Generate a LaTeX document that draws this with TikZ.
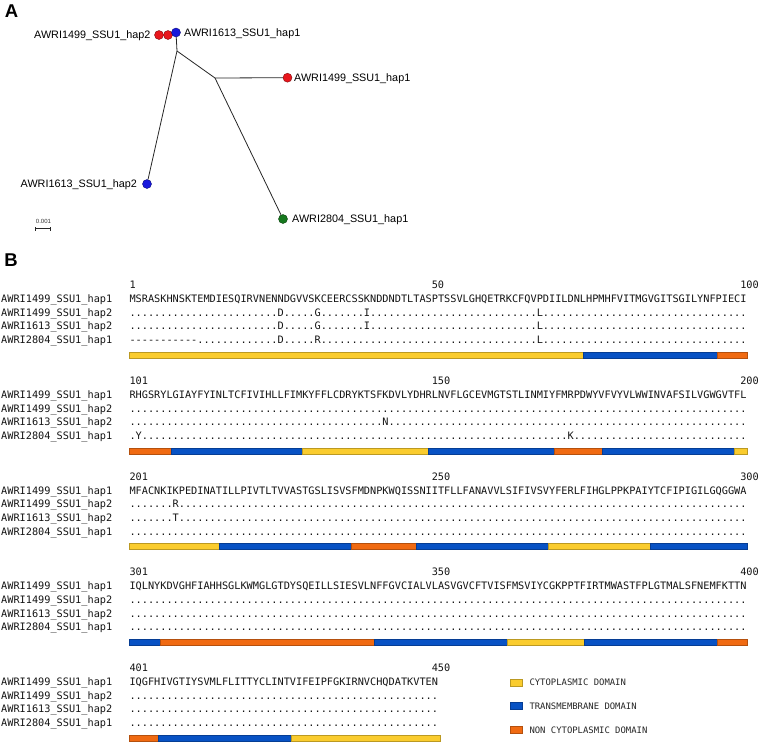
\documentclass[tikz,border=0pt]{standalone}
\usepackage{fontspec}
\setmainfont{Liberation Sans}
\setmonofont{DejaVu Sans Mono}
\ExplSyntaxOn
\cs_new:Npn \myrep #1#2 { \prg_replicate:nn {#1} {#2} }
\ExplSyntaxOff
\definecolor{cyto}{RGB}{250,204,46}
\definecolor{tm}{RGB}{8,82,196}
\definecolor{ncyto}{RGB}{240,106,18}
\definecolor{tred}{RGB}{232,22,28}
\definecolor{tblue}{RGB}{24,24,220}
\definecolor{tgreen}{RGB}{22,120,30}
\tikzset{
  seq/.style={font=\ttfamily\fontsize{10.25}{12}\selectfont, anchor=base west, inner sep=0pt, text=black!92},
  legtxt/.style={font=\ttfamily\fontsize{8.9}{10}\selectfont, anchor=base west, inner sep=0pt, text=black!85},
  leaf/.style={circle, inner sep=0pt, minimum size=9pt, draw=#1!55!black, fill=#1, line width=0.4pt},
  tlab/.style={font=\fontsize{10.8}{12}\selectfont, anchor=base west, inner sep=0pt, text=black},
  tlabr/.style={tlab, anchor=base east},
  panel/.style={font=\bfseries\fontsize{18.5}{20}\selectfont, inner sep=0pt},
  branch/.style={draw=black!85, line width=0.8pt},
  seg/.style={fill=#1, draw=#1!75!black, line width=0.3pt}
}
% #1 block index, #2 #3 #4 numbers, #5-#8 rows
\newcommand\seqblock[8]{%
  \pgfmathsetmacro\yb{299+95.75*#1}%
  \node[seq] (num#1a) at (129.3,\yb-14+3.7) {#2};
  \node[seq] (num#1b) at (431.6,\yb-14+3.7) {#3};
  \node[seq] (num#1c) at (740.1,\yb-14+3.7) {#4};
  \node[seq] (lab#1a) at (1,\yb+3.7) {AWRI1499\_SSU1\_hap1};
  \node[seq] (lab#1b) at (1,\yb+13.6+3.7) {AWRI1499\_SSU1\_hap2};
  \node[seq] (lab#1c) at (1,\yb+27.2+3.7) {AWRI1613\_SSU1\_hap2};
  \node[seq] (lab#1d) at (1,\yb+40.8+3.7) {AWRI2804\_SSU1\_hap1};
  \node[seq] (row#1a) at (129.3,\yb+3.7) {#5};
  \node[seq] (row#1b) at (129.3,\yb+13.6+3.7) {#6};
  \node[seq] (row#1c) at (129.3,\yb+27.2+3.7) {#7};
  \node[seq] (row#1d) at (129.3,\yb+40.8+3.7) {#8};
}
\newcommand\barseg[4]{% block, x1, x2, colour
  \pgfmathsetmacro\yc{299+95.75*#1+56}%
  \path[seg=#4] (#2,\yc-3) rectangle (#3,\yc+3);
}
\begin{document}
\begin{tikzpicture}[x=1pt,y=-1pt]
\useasboundingbox (0,0) rectangle (760,742);
% ---------- Panel A ----------
\node[panel] (pA) at (11.5,11.5) {A};
\coordinate (i1) at (177,51);
\coordinate (i2) at (215,78);
\node[leaf=tred] (h2a) at (159,35) {};
\node[leaf=tred] (h2b) at (168,35) {};
\node[leaf=tblue] (m1) at (176,32.5) {};
\node[leaf=tred] (h1) at (287.5,77.7) {};
\node[leaf=tblue] (m2) at (147,184) {};
\node[leaf=tgreen] (g1) at (283,219) {};
\draw[branch] (i1) -- (m1);
\draw[branch] (i1) -- (m2);
\draw[branch] (i1) -- (i2);
\draw[branch] (i2) -- (h1);
\draw[branch] (i2) -- (g1);
\node[tlabr] (t1) at (150.5,35+3.8) {AWRI1499\_SSU1\_hap2};
\node[tlab] (t2) at (184,32.5+3.8) {AWRI1613\_SSU1\_hap1};
\node[tlab] (t3) at (294,77.7+3.8) {AWRI1499\_SSU1\_hap1};
\node[tlabr] (t4) at (137,184+3.8) {AWRI1613\_SSU1\_hap2};
\node[tlab] (t5) at (292,219+3.8) {AWRI2804\_SSU1\_hap1};
\node[font=\fontsize{6}{7}\selectfont, inner sep=0pt, text=black!80] (sc) at (43.5,221) {0.001};
\coordinate (sb1) at (35.7,228.7);
\coordinate (sb2) at (50,228.7);
\draw[black!85, line width=0.6pt] (sb1) -- (sb2);
\draw[black!85, line width=0.6pt] ([yshift=-1.8pt]sb1) -- ([yshift=1.8pt]sb1);
\draw[black!85, line width=0.6pt] ([yshift=-1.8pt]sb2) -- ([yshift=1.8pt]sb2);
% ---------- Panel B ----------
\node[panel] (pB) at (11,260) {B};
\seqblock{0}{1}{50}{100}
 {MSRASKHNSKTEMDIESQIRVNENNDGVVSKCEERCSSKNDDNDTLTASPTSSVLGHQETRKCFQVPDIILDNLHPMHFVITMGVGITSGILYNFPIECI}
 {\myrep{24}{.}D\myrep{5}{.}G\myrep{7}{.}I\myrep{27}{.}L\myrep{33}{.}}
 {\myrep{24}{.}D\myrep{5}{.}G\myrep{7}{.}I\myrep{27}{.}L\myrep{33}{.}}
 {\myrep{11}{-{}}\myrep{13}{.}D\myrep{5}{.}R\myrep{35}{.}L\myrep{33}{.}}
\seqblock{1}{101}{150}{200}
 {RHGSRYLGIAYFYINLTCFIVIHLLFIMKYFFLCDRYKTSFKDVLYDHRLNVFLGCEVMGTSTLINMIYFMRPDWYVFVYVLWWINVAFSILVGWGVTFL}
 {\myrep{100}{.}}
 {\myrep{41}{.}N\myrep{58}{.}}
 {.Y\myrep{69}{.}K\myrep{28}{.}}
\seqblock{2}{201}{250}{300}
 {MFACNKIKPEDINATILLPIVTLTVVASTGSLISVSFMDNPKWQISSNIITFLLFANAVVLSIFIVSVYFERLFIHGLPPKPAIYTCFIPIGILGQGGWA}
 {\myrep{7}{.}R\myrep{92}{.}}
 {\myrep{7}{.}T\myrep{92}{.}}
 {\myrep{100}{.}}
\seqblock{3}{301}{350}{400}
 {IQLNYKDVGHFIAHHSGLKWMGLGTDYSQEILLSIESVLNFFGVCIALVLASVGVCFTVISFMSVIYCGKPPTFIRTMWASTFPLGTMALSFNEMFKTTN}
 {\myrep{100}{.}}
 {\myrep{100}{.}}
 {\myrep{100}{.}}
\seqblock{4}{401}{450}{}
 {IQGFHIVGTIYSVMLFLITTYCLINTVIFEIPFGKIRNVCHQDATKVTEN}
 {\myrep{50}{.}}
 {\myrep{50}{.}}
 {\myrep{50}{.}}
% domain bars
\barseg{0}{129.3}{583.3}{cyto}
\barseg{0}{583.3}{716.7}{tm}
\barseg{0}{716.7}{746.7}{ncyto}
\barseg{1}{129.3}{170.7}{ncyto}
\barseg{1}{170.7}{302.3}{tm}
\barseg{1}{302.3}{428.3}{cyto}
\barseg{1}{428.3}{554.3}{tm}
\barseg{1}{554.3}{602.3}{ncyto}
\barseg{1}{602.3}{734}{tm}
\barseg{1}{734}{746.7}{cyto}
\barseg{2}{129.3}{219}{cyto}
\barseg{2}{219}{351}{tm}
\barseg{2}{351}{416}{ncyto}
\barseg{2}{416}{548.3}{tm}
\barseg{2}{548.3}{650}{cyto}
\barseg{2}{650}{746.7}{tm}
\barseg{3}{129.3}{160}{tm}
\barseg{3}{160}{374}{ncyto}
\barseg{3}{374}{506.7}{tm}
\barseg{3}{506.7}{584}{cyto}
\barseg{3}{584}{716.7}{tm}
\barseg{3}{716.7}{746.7}{ncyto}
\barseg{4}{129.3}{158.3}{ncyto}
\barseg{4}{158.3}{290.7}{tm}
\barseg{4}{290.7}{440}{cyto}
% legend
\path[seg=cyto] (510,678.8) rectangle (522.3,685.8);
\path[seg=tm] (510,702.5) rectangle (522.3,709.5);
\path[seg=ncyto] (510,726.5) rectangle (522.3,733.5);
\node[legtxt] (lg1) at (529.3,682.3+3.2) {CYTOPLASMIC DOMAIN};
\node[legtxt] (lg2) at (529.3,706+3.2) {TRANSMEMBRANE DOMAIN};
\node[legtxt] (lg3) at (529.3,730+3.2) {NON CYTOPLASMIC DOMAIN};
\end{tikzpicture}
\end{document}
